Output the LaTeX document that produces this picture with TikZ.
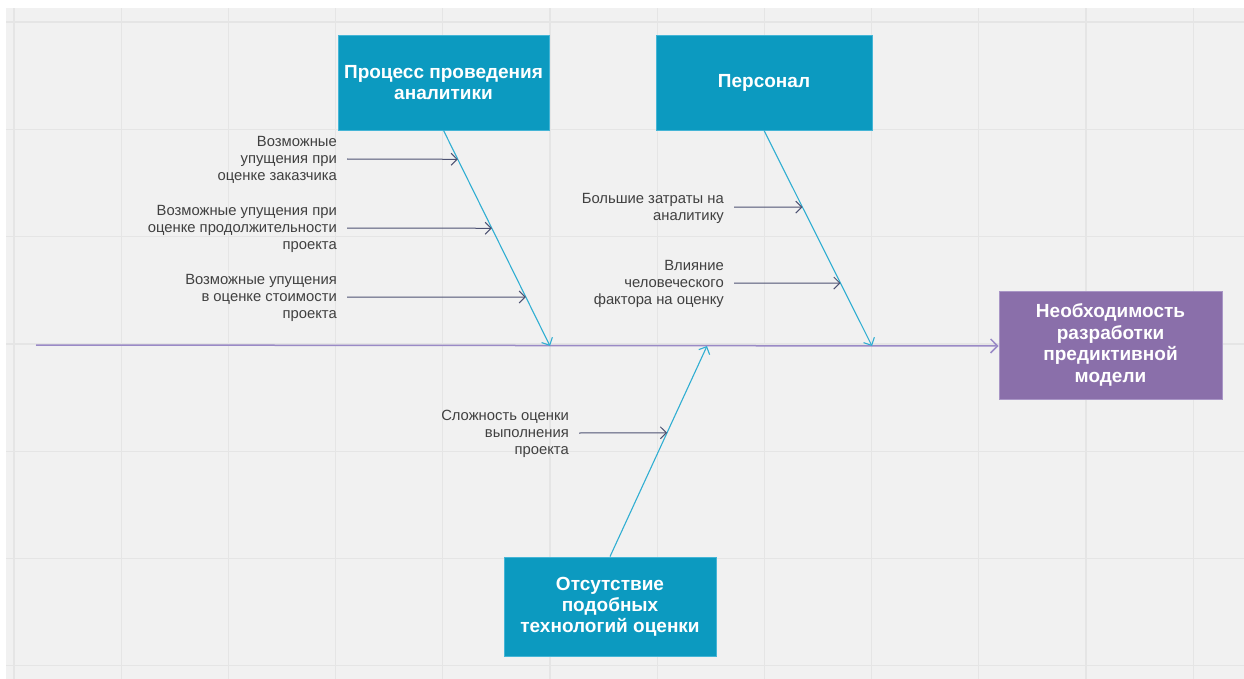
\documentclass[tikz,border=0pt]{standalone}
\usepackage{fontspec}
\setmainfont{Liberation Sans}
\usetikzlibrary{arrows.meta,calc}

\definecolor{canvas}{HTML}{F1F1F1}
\definecolor{gridline}{HTML}{E5E5E5}
\definecolor{causefill}{HTML}{0C9AC0}
\definecolor{causeedge}{HTML}{45B5D6}
\definecolor{effectfill}{HTML}{8A6FAA}
\definecolor{effectedge}{HTML}{A996C6}
\definecolor{bone}{HTML}{30AED2}
\definecolor{spine}{HTML}{9A8AC6}
\definecolor{subarrow}{HTML}{4D5272}
\definecolor{labeltext}{HTML}{404040}

\tikzset{
  causebox/.style={draw=causeedge, line width=0.8pt, fill=causefill, text=white,
    font=\fontsize{19}{21}\selectfont\bfseries, align=center, inner sep=0pt},
  effectbox/.style={draw=effectedge, line width=0.8pt, fill=effectfill, text=white,
    font=\fontsize{19}{21.5}\selectfont\bfseries, align=center, inner sep=0pt},
  factor/.style={text=labeltext, font=\fontsize{14.8}{17.2}\selectfont, align=right,
    inner sep=0pt, anchor=east},
  bonearrow/.style={draw=bone, line width=1.1pt, -{Straight Barb[length=6pt,width=12pt]}},
  spinearrow/.style={draw=spine, line width=1.5pt, -{Straight Barb[length=7pt,width=14pt]}},
  factorarrow/.style={draw=subarrow, line width=1pt, -{Straight Barb[length=6pt,width=12pt]}},
}

\begin{document}
\begin{tikzpicture}[x=1pt, y=-1pt]
  \useasboundingbox (0,0) rectangle (1244,679);

  % canvas and grid
  \fill[canvas] (6,8) rectangle (1244,679);
  \foreach \i in {0,...,11}
    \draw[gridline, line width=1.2pt] ({14+107.2*\i},8) -- ({14+107.2*\i},679);
  \foreach \j in {0,...,6}
    \draw[gridline, line width=1.2pt] (6,{22+107.3*\j}) -- (1244,{22+107.3*\j});

  % cause categories and effect
  \node[causebox, minimum width=211pt, minimum height=95pt] (proc) at (443.5,82.5)
    {Процесс проведения\\аналитики};
  \node[causebox, minimum width=216pt, minimum height=95pt] (staff) at (764,82.5)
    {Персонал};
  \node[causebox, minimum width=212pt, minimum height=99pt] (tech) at (610,606.5)
    {Отсутствие\\подобных\\технологий оценки};
  \node[effectbox, minimum width=223pt, minimum height=108pt] (effect) at (1110.5,345)
    {Необходимость\\разработки\\предиктивной\\модели};

  % spine
  \coordinate (tail) at (36,345);
  \coordinate (j1) at (550,346);
  \coordinate (j2) at (872,346);
  \coordinate (j3) at (707,346);
  \draw[spinearrow] (tail) -- ([yshift=-1pt]effect.west);

  % category bones
  \draw[bonearrow] (proc.south) -- (j1);
  \draw[bonearrow] (staff.south) -- (j2);
  \draw[bonearrow] (tech.north) -- (j3);

  % factor labels
  \node[factor] (f1) at (337,160) {Возможные\\упущения при\\оценке заказчика};
  \node[factor] (f2) at (337,229) {Возможные упущения при\\оценке продолжительности\\проекта};
  \node[factor] (f3) at (337,298) {Возможные упущения\\в оценке стоимости\\проекта};
  \node[factor] (f4) at (724,208.5) {Большие затраты на\\аналитику};
  \node[factor] (f5) at (724,284) {Влияние\\человеческого\\фактора на оценку};
  \node[factor] (f6) at (569,434) {Сложность оценки\\выполнения\\проекта};

  % points where the factors meet their bones
  \coordinate (p1) at ($(proc.south)!0.134!(j1)$);
  \coordinate (p2) at ($(proc.south)!0.454!(j1)$);
  \coordinate (p3) at ($(proc.south)!0.773!(j1)$);
  \coordinate (p4) at ($(staff.south)!0.356!(j2)$);
  \coordinate (p5) at ($(staff.south)!0.708!(j2)$);
  \coordinate (p6) at ($(tech.north)!0.588!(j3)$);

  % factor arrows
  \draw[factorarrow] (347,159) -- (p1);
  \draw[factorarrow] (347,228) -- (p2);
  \draw[factorarrow] (347,297) -- (p3);
  \draw[factorarrow] (734,207) -- (p4);
  \draw[factorarrow] (734,283) -- (p5);
  \draw[factorarrow] (579,433) -- (p6);
\end{tikzpicture}
\end{document}
